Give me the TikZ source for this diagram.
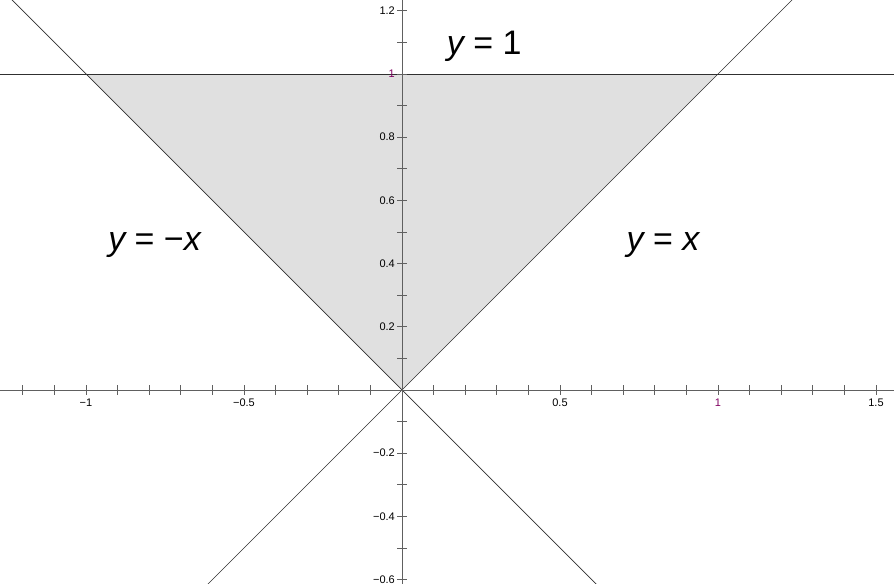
\documentclass[tikz,border=0pt]{standalone}
\usepackage{fontspec}
\setmainfont{Liberation Sans}
\definecolor{axisgray}{HTML}{606060}
\definecolor{linegray}{HTML}{303030}
\definecolor{regionfill}{HTML}{E0E0E0}
\definecolor{unitpurple}{HTML}{800060}
\tikzset{
  axisline/.style={draw=axisgray, line width=0.9pt},
  ticklines/.style={draw=axisgray, line width=0.8pt},
  graphline/.style={draw=linegray, line width=0.7pt},
  ticklabel/.style={font=\fontsize{11}{12}\selectfont, inner sep=0pt},
  eqlabel/.style={font=\fontsize{34}{36}\selectfont, inner sep=0pt}
}
\begin{document}
\begin{tikzpicture}[x=316pt,y=316pt]
\useasboundingbox (-1.2722,-0.6139) rectangle (1.5570,1.2342);
\clip (-1.2722,-0.6139) rectangle (1.5570,1.2342);
% shaded region
\fill[regionfill] (0,0) -- (-1,1) -- (1,1) -- cycle;
% graphs
\coordinate (o) at (0,0);
\coordinate (ll) at (-0.7,-0.7);
\coordinate (ur) at (1.3,1.3);
\coordinate (lr) at (0.7,-0.7);
\coordinate (ul) at (-1.3,1.3);
\coordinate (hl) at (-1.3,1);
\coordinate (hr) at (1.6,1);
\draw[graphline] (ll) -- (ur);
\draw[graphline] (lr) -- (ul);
\draw[graphline] (hl) -- (hr);
% axes
\coordinate (xl) at (-1.3,0);
\coordinate (xr) at (1.6,0);
\coordinate (yb) at (0,-0.7);
\coordinate (yt) at (0,1.3);
\draw[axisline] (xl) -- (xr);
\draw[axisline] (yb) -- (yt);
% ticks
\foreach \t in {-12,...,15}{
  \ifnum\t=0\else
  \draw[ticklines] (\t/10,0) ++(0,-5pt) -- ++(0,10pt);
  \fi
}
\foreach \t in {-6,...,12}{
  \ifnum\t=0\else
  \draw[ticklines] (0,\t/10) ++(-5pt,0) -- ++(10pt,0);
  \fi
}
% x tick labels
\node[ticklabel, anchor=north] (xm1) at ([yshift=-9pt]-1,0) {−1};
\node[ticklabel, anchor=north] (xm05) at ([yshift=-9pt]-0.5,0) {−0.5};
\node[ticklabel, anchor=north] (x05) at ([yshift=-9pt]0.5,0) {0.5};
\node[ticklabel, anchor=north, text=unitpurple] (x1) at ([yshift=-9pt]1,0) {1};
\node[ticklabel, anchor=north] (x15) at ([yshift=-9pt]1.5,0) {1.5};
% y tick labels
\node[ticklabel, anchor=east] (y12) at ([xshift=-7pt]0,1.2) {1.2};
\node[ticklabel, anchor=east, text=unitpurple] (y1) at ([xshift=-7pt]0,1) {1};
\node[ticklabel, anchor=east] (y08) at ([xshift=-7pt]0,0.8) {0.8};
\node[ticklabel, anchor=east] (y06) at ([xshift=-7pt]0,0.6) {0.6};
\node[ticklabel, anchor=east] (y04) at ([xshift=-7pt]0,0.4) {0.4};
\node[ticklabel, anchor=east] (y02) at ([xshift=-7pt]0,0.2) {0.2};
\node[ticklabel, anchor=east] (ym02) at ([xshift=-7pt]0,-0.2) {−0.2};
\node[ticklabel, anchor=east] (ym04) at ([xshift=-7pt]0,-0.4) {−0.4};
\node[ticklabel, anchor=east] (ym06) at ([xshift=-7pt]0,-0.6) {−0.6};
% equation labels
\node[eqlabel] (eq1) at (0.26,1.088) {\itshape y\upshape\ = 1};
\node[eqlabel] (eq2) at (-0.783,0.46) {\itshape y\upshape\ = −\itshape x};
\node[eqlabel] (eq3) at (0.826,0.46) {\itshape y\upshape\ = \itshape x};
\end{tikzpicture}
\end{document}
